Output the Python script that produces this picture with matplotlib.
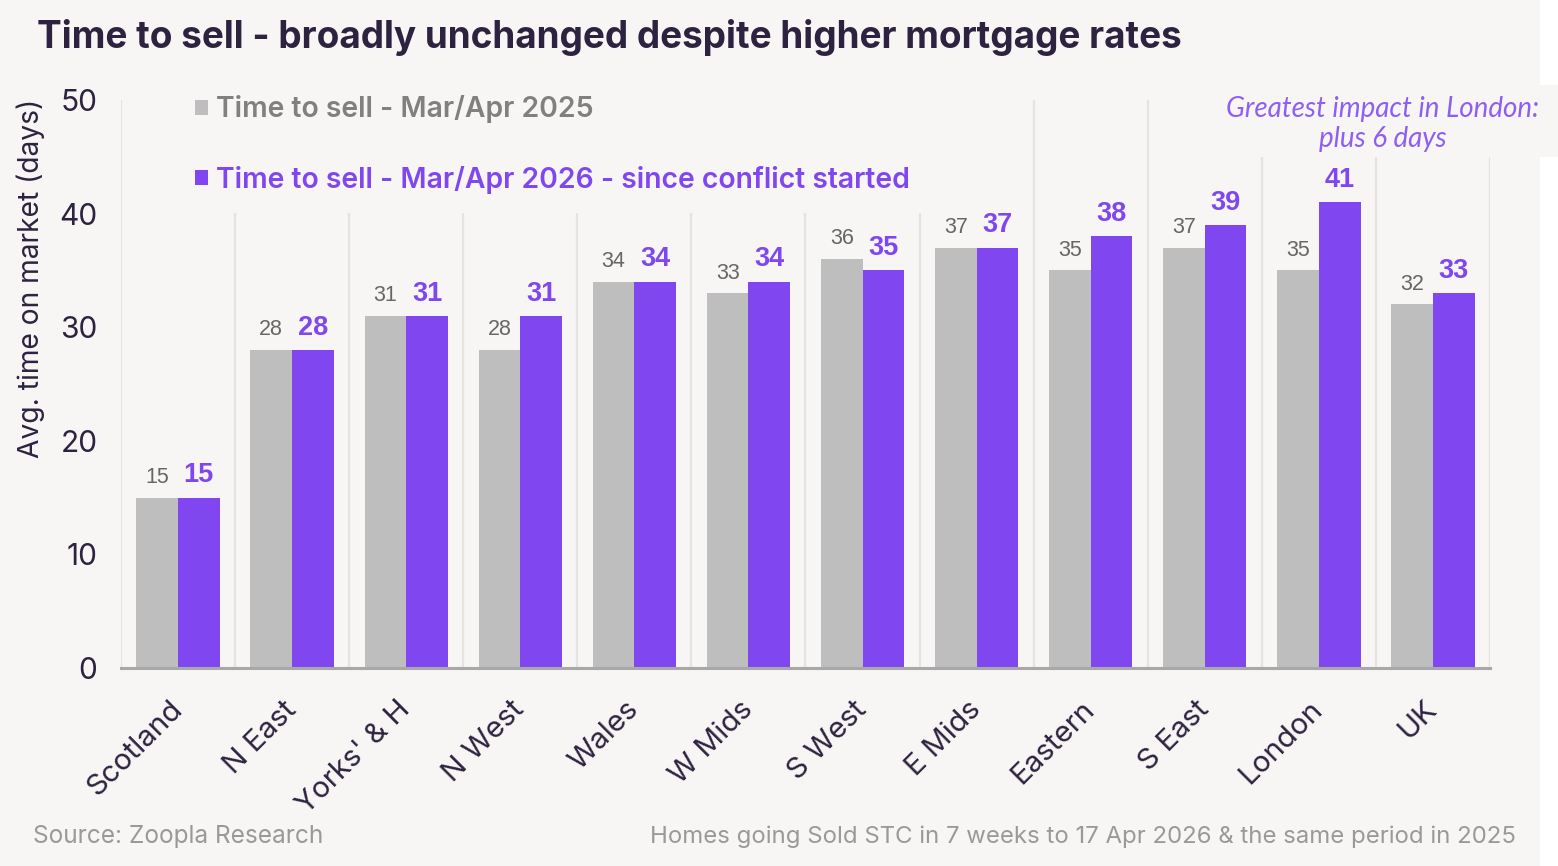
import matplotlib
matplotlib.use("Agg")
import matplotlib.pyplot as plt
from matplotlib.patches import Patch, Rectangle
import numpy as np

categories = ["Scotland", "N East", "Yorks' & H", "N West", "Wales", "W Mids",
              "S West", "E Mids", "Eastern", "S East", "London", "UK"]
sell_2025 = [15, 28, 31, 28, 34, 33, 36, 37, 35, 37, 35, 32]
sell_2026 = [15, 28, 31, 31, 34, 34, 35, 37, 38, 39, 41, 33]
series_names = ["Time to sell - Mar/Apr 2025",
                "Time to sell - Mar/Apr 2026 - since conflict started"]
yticks = [0, 10, 20, 30, 40, 50]

BG = "#f7f6f4"
GREY = "#bebebe"
PURPLE = "#8047f0"
DARK = "#2d2340"
SEP = "#e4e3e1"

plt.rcParams['font.family'] = ['Inter', 'DejaVu Sans']

W, H = 1558, 866
fig = plt.figure(figsize=(W / 100, H / 100), dpi=100, facecolor=BG)
fig.patches.append(Rectangle((1540 / W, 0), 1 - 1540 / W, 1, transform=fig.transFigure,
                             facecolor="white", edgecolor="none", zorder=0))

L, R, B, T = 121, 1490, 668, 100
ax = fig.add_axes([L / W, 1 - B / H, (R - L) / W, (B - T) / H])
ax.set_facecolor(BG)

x = np.arange(len(categories))
bw = 0.365
ax.bar(x - bw / 2, sell_2025, width=bw, color=GREY, zorder=3, label=series_names[0])
ax.bar(x + bw / 2, sell_2026, width=bw, color=PURPLE, zorder=3, label=series_names[1])

for b in np.arange(-0.5, len(categories) + 0.5, 1.0):
    ax.axvline(b, color=SEP, lw=1.6, zorder=1)

for xi, v in zip(x, sell_2025):
    ax.annotate(str(v), (xi - bw / 2, v), xytext=(0, 10.5), textcoords="offset points",
                ha="center", va="baseline", fontsize=15.5, color="#666666",
                family="Liberation Sans", zorder=5)
for xi, v in zip(x, sell_2026):
    ax.annotate(str(v), (xi + bw / 2, v), xytext=(0, 11), textcoords="offset points",
                ha="center", va="baseline", fontsize=19.5, color=PURPLE,
                family="Liberation Sans", fontweight="bold", zorder=5)

ax.set_xlim(-0.5, len(categories) - 0.5)
ax.set_ylim(0, 50)
ax.set_yticks(yticks)
ax.set_yticklabels([str(t) for t in yticks], fontsize=21.5, color=DARK)
ax.tick_params(axis="y", length=0, pad=17)
ax.set_xticks(x)
ax.set_xticklabels(categories, rotation=45, ha="right", va="center", rotation_mode="anchor",
                   fontsize=21.3, color=DARK)
ax.tick_params(axis="x", length=0, pad=27)
for s in ["top", "right", "left"]:
    ax.spines[s].set_visible(False)
ax.spines["bottom"].set_color("#a8a8a8")
ax.spines["bottom"].set_linewidth(2.2)
ax.spines["bottom"].set_zorder(6)
ax.set_ylabel("Avg. time on market (days)", fontsize=20.3, color=DARK)
ax.yaxis.set_label_coords(-(L - 45) / (R - L), (B - 278) / (B - T))

ax.add_patch(Rectangle((0.004, (B - 213) / (B - T)), (928 - L) / (R - L) - 0.004,
                       1 - (B - 213) / (B - T) + 0.01, transform=ax.transAxes,
                       facecolor=BG, edgecolor="none", zorder=2, clip_on=False))

handles = [Patch(facecolor=GREY, edgecolor="none"), Patch(facecolor=PURPLE, edgecolor="none")]
leg = ax.legend(handles, series_names, loc="upper left",
                bbox_to_anchor=((195 - L) / (R - L), 1.008), frameon=False,
                handlelength=0.45, handleheight=0.45, handletextpad=0.3,
                labelspacing=1.5, borderpad=0, borderaxespad=0,
                prop={"family": "Inter", "weight": "semibold", "size": 20.4})
leg.set_zorder(7)
for t, c in zip(leg.get_texts(), ["#808080", PURPLE]):
    t.set_color(c)

fig.patches.append(Rectangle((1215 / W, 1 - 157 / H), (W - 1215) / W, (157 - 85) / H,
                             transform=fig.transFigure, facecolor=BG,
                             edgecolor="none", zorder=5))
fig.text(1383 / W, 1 - 124 / H, "Greatest impact in London:\nplus 6 days",
         ha="center", va="center", fontsize=20, color="#8f5ef2", style="italic",
         family="Lato", linespacing=1.15, zorder=6)

fig.text(37 / W, 1 - 37 / H, "Time to sell - broadly unchanged despite higher mortgage rates",
         ha="left", va="center", fontsize=26.6, fontweight="bold", color=DARK)
fig.text(33 / W, 1 - 837 / H, "Source: Zoopla Research", ha="left", va="center",
         fontsize=17.6, color="#999999")
fig.text(1516 / W, 1 - 837 / H,
         "Homes going Sold STC in 7 weeks to 17 Apr 2026 & the same period in 2025",
         ha="right", va="center", fontsize=17.25, color="#999999")

fig.savefig("out.png", dpi=100, facecolor=BG)
